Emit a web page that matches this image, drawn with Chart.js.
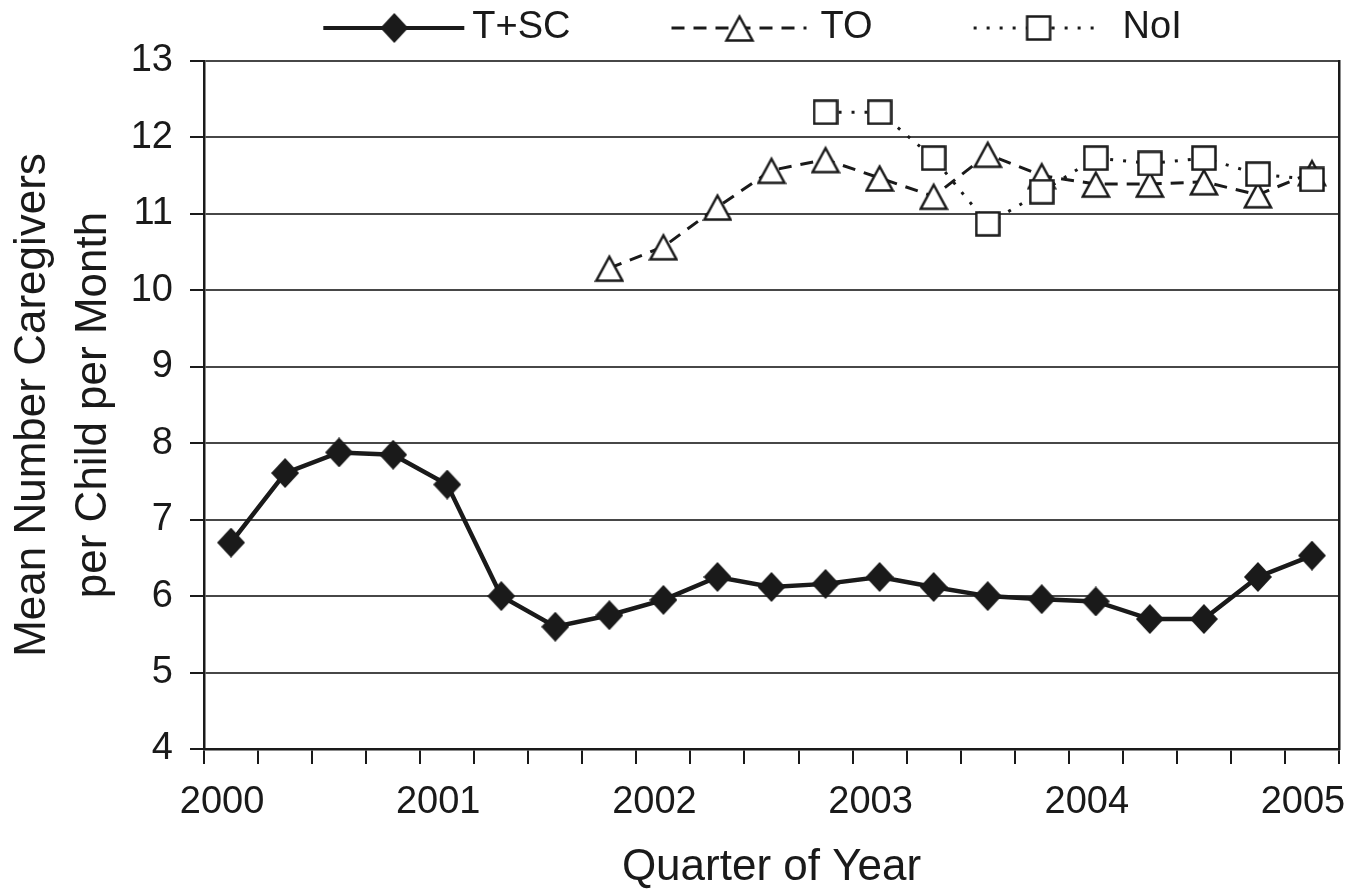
<!DOCTYPE html>
<html>
<head>
<meta charset="utf-8">
<script src="https://cdn.jsdelivr.net/npm/chart.js@4.4.1/dist/chart.umd.min.js"></script>
<style>
html,body{margin:0;padding:0;background:#fff;}
canvas{display:block;}
</style>
</head>
<body>
<canvas id="c" width="1363" height="894"></canvas>
<script>
// ---- data ----
const quarters = [
  '2000 Q1','2000 Q2','2000 Q3','2000 Q4',
  '2001 Q1','2001 Q2','2001 Q3','2001 Q4',
  '2002 Q1','2002 Q2','2002 Q3','2002 Q4',
  '2003 Q1','2003 Q2','2003 Q3','2003 Q4',
  '2004 Q1','2004 Q2','2004 Q3','2004 Q4',
  '2005 Q1'
];
const yearTickLabels = ['2000','2001','2002','2003','2004','2005'];
const seriesNames = ['T+SC','TO','NoI'];
const tscValues = [6.70, 7.61, 7.88, 7.85, 7.46, 6.00, 5.60, 5.75, 5.95, 6.25, 6.12,
                   6.16, 6.25, 6.12, 6.00, 5.96, 5.93, 5.70, 5.70, 6.25, 6.53];
const toValues  = [null, null, null, null, null, null, null,
                   10.29, 10.57, 11.09, 11.57, 11.71, 11.47, 11.23, 11.78, 11.50,
                   11.39, 11.39, 11.42, 11.25, 11.54];
const noiValues = [null, null, null, null, null, null, null, null, null, null, null,
                   12.33, 12.33, 11.73, 10.87, 11.29, 11.73, 11.66, 11.73, 11.52, 11.45];
const yMin = 4, yMax = 13, yStep = 1;
const xTitle = 'Quarter of Year';
const yTitle = ['Mean Number Caregivers', 'per Child per Month'];

// ---- styling ----
const INK = '#1a1a1a';
const FONT = '"Liberation Sans", Arial, Helvetica, sans-serif';
Chart.defaults.font.family = FONT;
Chart.defaults.color = INK;

function makeCanvas(w, h, draw) {
  const c = document.createElement('canvas');
  c.width = w; c.height = h;
  draw(c.getContext('2d'), w, h);
  return c;
}
const diamondImg = makeCanvas(28, 30, (g, w, h) => {
  g.fillStyle = INK;
  g.beginPath();
  g.moveTo(w / 2, 0); g.lineTo(w, h / 2); g.lineTo(w / 2, h); g.lineTo(0, h / 2);
  g.closePath(); g.fill();
});
const triangleImg = makeCanvas(30, 30, (g, w, h) => {
  g.fillStyle = '#fff'; g.strokeStyle = INK; g.lineWidth = 2.5;
  g.beginPath();
  g.moveTo(w / 2, 3.5); g.lineTo(w - 2, h - 2.5); g.lineTo(2, h - 2.5);
  g.closePath(); g.fill(); g.stroke();
});
const squareImg = makeCanvas(26, 26, (g, w, h) => {
  g.fillStyle = '#fff'; g.strokeStyle = INK; g.lineWidth = 2.5;
  g.fillRect(1.5, 1.5, w - 3, h - 3);
  g.strokeRect(1.5, 1.5, w - 3, h - 3);
});

function makeLegendImg(len, dash, lw, marker) {
  const rel = 19;
  const W = 2 * (len - rel) + 4, H = 34;
  return makeCanvas(W, H, (g) => {
    const x0 = W / 2 - rel, y = H / 2;
    g.strokeStyle = INK; g.lineWidth = lw; g.setLineDash(dash);
    g.beginPath(); g.moveTo(x0, y); g.lineTo(x0 + len, y); g.stroke();
    g.setLineDash([]);
    g.drawImage(marker, Math.round(x0 + len / 2 - marker.width / 2), Math.round(y - marker.height / 2));
  });
}
const legendImgs = [
  makeLegendImg(141, [], 4, diamondImg),
  makeLegendImg(135, [13, 9], 3, triangleImg),
  makeLegendImg(130, [3, 10], 3, squareImg)
];

// make the legend band exactly as tall as the space above the plot
const legendBandPlugin = {
  id: 'legendBand',
  afterInit(chart) {
    const lg = chart.legend;
    if (!lg) return;
    const fit = lg.fit.bind(lg);
    lg.fit = function () { fit(); lg.height = 61; };
  }
};

new Chart(document.getElementById('c'), {
  type: 'line',
  data: {
    labels: quarters,
    datasets: [
      { label: seriesNames[0], data: tscValues, borderColor: INK, backgroundColor: INK,
        borderWidth: 4.5, pointStyle: diamondImg, pointRadius: 13, tension: 0, order: 2 },
      { label: seriesNames[1], data: toValues, borderColor: INK, backgroundColor: '#fff',
        borderWidth: 3, borderDash: [13, 9], pointStyle: triangleImg, pointRadius: 13, tension: 0, order: 1 },
      { label: seriesNames[2], data: noiValues, borderColor: INK, backgroundColor: '#fff',
        borderWidth: 3, borderDash: [3, 10], pointStyle: squareImg, pointRadius: 13, tension: 0, order: 0 }
    ]
  },
  options: {
    responsive: false,
    animation: false,
    devicePixelRatio: 1,
    layout: { padding: { top: 0, left: 0, bottom: 0, right: -50 } },
    plugins: {
      tooltip: { enabled: false },
      legend: {
        display: true,
        position: 'top',
        align: 'center',
        labels: {
          usePointStyle: true,
          pointStyleWidth: 222,
          padding: 9,
          color: INK,
          font: { size: 38 },
          generateLabels(chart) {
            const items = Chart.defaults.plugins.legend.labels.generateLabels(chart);
            items.forEach(it => { it.pointStyle = legendImgs[it.datasetIndex]; });
            return items.sort((a, b) => a.datasetIndex - b.datasetIndex);
          }
        }
      }
    },
    scales: {
      x: {
        type: 'category',
        offset: true,
        grid: { display: true, offset: true, drawOnChartArea: false, drawTicks: true,
                tickLength: 15, color: INK, lineWidth: 2 },
        border: { display: true, color: INK, width: 2.5 },
        ticks: {
          autoSkip: false, maxRotation: 0, minRotation: 0, padding: 16, labelOffset: -9,
          color: INK, font: { size: 38 },
          callback: (val, idx) => (idx % 4 === 0 ? yearTickLabels[idx / 4] : '')
        },
        title: { display: true, text: xTitle, color: INK, font: { size: 44, lineHeight: 1.2 },
                 padding: { top: 0, bottom: 0 } },
        afterFit: s => { s.height = 145; s.paddingLeft = 0; s.paddingRight = 0; }
      },
      y: {
        position: 'left',
        min: yMin, max: yMax,
        ticks: { stepSize: yStep, padding: 17, color: INK, font: { size: 38 } },
        grid: { color: '#474747', lineWidth: 2, tickColor: INK, tickLength: 14, drawTicks: true },
        border: { display: true, color: INK, width: 2.5 },
        title: { display: true, text: yTitle, color: INK, font: { size: 44, lineHeight: 1.39 },
                 padding: { top: 2, bottom: 0 } },
        afterFit: s => { s.width = 204; }
      },
      y2: {
        position: 'right',
        min: yMin, max: yMax,
        grid: { display: false },
        ticks: { display: false },
        border: { display: true, color: INK, width: 2.5 },
        afterFit: s => { s.width = 74; }
      }
    }
  },
  plugins: [legendBandPlugin]
});
</script>
</body>
</html>
